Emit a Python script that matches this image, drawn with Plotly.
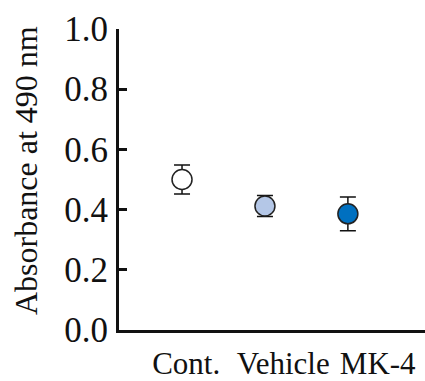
import plotly.graph_objects as go

categories = ["Cont.", "Vehicle", "MK-4"]
means = [0.50, 0.412, 0.386]
errors = [0.048, 0.035, 0.056]
fill_colors = ["#FFFFFF", "#B4C7E7", "#0070C0"]
y_ticks = [0.0, 0.2, 0.4, 0.6, 0.8, 1.0]
y_tick_labels = ["0.0", "0.2", "0.4", "0.6", "0.8", "1.0"]
y_title = "Absorbance at 490 nm"

x_pos = list(range(len(categories)))
label_pos = [0.05, 1.22, 2.36]

fig = go.Figure()
fig.add_trace(go.Scatter(
    x=x_pos, y=means, mode="markers",
    marker=dict(size=20, color=fill_colors, line=dict(color="#222222", width=1.5)),
    error_y=dict(type="data", array=errors, visible=True, color="#111111", thickness=1.5, width=8),
    showlegend=False,
))

font = "Liberation Serif"
fig.update_layout(
    width=425, height=381,
    margin=dict(l=119, r=0, t=29, b=49),
    paper_bgcolor="white", plot_bgcolor="white",
    font=dict(family=font, color="#111111"),
    xaxis=dict(range=[-0.76, 2.93], tickvals=label_pos, ticktext=categories,
               ticks="", showgrid=False, zeroline=False, showline=True,
               linecolor="#111111", linewidth=3, tickfont=dict(size=31, family=font),
               ticklabelstandoff=4),
    yaxis=dict(range=[0, 1], tickvals=y_ticks, ticktext=y_tick_labels,
               ticks="inside", ticklen=8, tickwidth=2.5, tickcolor="#111111",
               showgrid=False, zeroline=False, showline=True,
               linecolor="#111111", linewidth=3, tickfont=dict(size=35, family=font),
               ticklabelstandoff=1),
)
fig.add_annotation(text=y_title, xref="paper", yref="paper", x=-0.302, y=0.53,
                   xanchor="center", yanchor="middle", textangle=-90, showarrow=False,
                   font=dict(size=32, family=font, color="#111111"))

fig.write_html("out.html")
